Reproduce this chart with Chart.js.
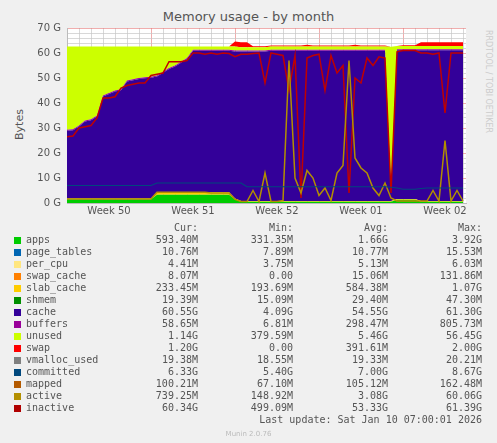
<!DOCTYPE html>
<html><head><meta charset="utf-8">
<script src="https://cdn.jsdelivr.net/npm/chart.js@4.4.1/dist/chart.umd.min.js"></script>
<style>
body{margin:0;background:#f0f0f0;width:497px;height:443px;overflow:hidden;position:relative;font-family:"DejaVu Sans",sans-serif}
#t{position:absolute;top:9px;left:0;width:497px;text-align:center;font-size:13px;color:#555}
#yl{position:absolute;left:4px;top:118px;transform:rotate(-90deg);font-size:11px;color:#555;transform-origin:center}
#rr{position:absolute;left:484px;top:30px;writing-mode:vertical-rl;font-size:8px;color:#ccc}
#c{position:absolute;left:0;top:0}
#lg{position:absolute;left:0;top:222px;width:497px;height:200px;font-family:"DejaVu Sans Mono",monospace;font-size:10px;color:#555}
#lg div{position:absolute;white-space:pre;height:12px;line-height:12px}
.sw{position:absolute;width:7px;height:7px}
#mu{position:absolute;top:430px;left:0;width:497px;text-align:center;font-size:7px;color:#bbb}
</style></head><body>
<div id="t">Memory usage - by month</div>
<div id="yl">Bytes</div>
<div id="rr">RRDTOOL / TOBI OETIKER</div>
<canvas id="c" width="497" height="230"></canvas>
<div id="lg"></div>
<div id="mu">Munin 2.0.76</div>
<script>
const days=[0,0.5,1,1.5,2,2.5,3,3.5,4,4.5,5,5.5,6,6.5,7,7.5,8,8.5,9,9.5,10,10.5,11,11.5,12,12.5,13,13.5,14,14.5,15,15.5,16,16.5,17,17.5,18,18.5,19,19.5,20,20.5,21,21.5,22,22.5,23,23.5,24,24.5,25,25.5,26,26.5,27,27.5,28,28.5,29,29.5,30,30.5,31,31.5,32,32.5,33];
const weekLabels=["Week 50","Week 51","Week 52","Week 01","Week 02"];
const apps=[1.5,1.5,1.5,1.5,1.5,1.5,1.5,1.5,1.5,1.5,1.5,1.5,1.5,1.5,1.5,3.3,3.3,3.3,3.3,3.3,3.3,3.3,3.3,3.3,3.3,3.3,3.3,3.3,1.5,0.5,0.5,0.5,0.5,0.5,0.5,0.5,0.5,0.5,0.5,0.5,0.5,0.5,0.5,0.5,0.5,0.5,0.5,0.5,0.5,0.5,0.5,0.5,0.5,0.5,0.5,1.3,1.3,1.3,1.3,0.5,0.5,0.5,0.5,0.5,0.5,0.5,0.5];
const slabCache=[0.3,0.3,0.3,0.3,0.3,0.3,0.3,0.3,0.3,0.3,0.3,0.3,0.3,0.3,0.3,1.0,1.0,1.0,1.0,1.0,1.0,1.0,1.0,1.0,1.0,1.0,1.0,1.0,0.3,0.3,0.3,0.3,0.3,0.3,0.3,0.3,0.3,0.3,0.3,0.3,0.3,0.3,0.3,0.3,0.3,0.3,0.3,0.3,0.3,0.3,0.3,0.3,0.3,0.3,0.3,0.3,0.3,0.3,0.3,0.3,0.3,0.3,0.3,0.3,0.3,0.3,0.3];
const cache=[27.1,27.3,28.8,30.8,31.3,32.8,40.8,41.8,42.8,43.3,46.8,47.3,47.8,48.1,48.3,46.3,47.8,49.3,50.3,51.8,53.3,56.6,56.6,56.6,56.6,56.6,56.6,56.6,58.8,59.8,59.8,59.8,59.8,59.8,60.1,60.1,60.1,60.1,60.1,60.1,60.1,60.1,60.1,60.1,60.1,60.1,60.1,60.1,60.1,60.1,60.1,60.1,60.1,60.1,4.1,59.5,59.5,59.5,59.5,60.3,60.3,60.3,60.3,60.3,60.3,60.3,60.3];
const buffers=[0.4,0.4,0.4,0.4,0.4,0.4,0.4,0.4,0.4,0.4,0.4,0.4,0.4,0.4,0.4,0.4,0.4,0.4,0.4,0.4,0.4,0.4,0.4,0.4,0.4,0.4,0.4,0.4,0.4,0.4,0.4,0.4,0.4,0.4,0.4,0.4,0.4,0.4,0.4,0.4,0.4,0.4,0.4,0.4,0.4,0.4,0.4,0.4,0.4,0.4,0.4,0.4,0.4,0.4,0.1,0.4,0.4,0.4,0.4,0.4,0.4,0.4,0.4,0.4,0.4,0.4,0.4];
const unused=[33.3,33.1,31.6,29.6,29.1,27.6,19.6,18.6,17.6,17.1,13.6,13.1,12.6,12.3,12.1,11.6,10.1,8.6,7.6,6.1,4.6,1.3,1.3,1.3,1.3,1.3,1.3,1.3,1.6,1.3,1.3,1.3,1.3,1.3,1.3,1.3,1.3,1.3,1.3,1.3,1.3,1.3,1.3,1.3,1.3,1.3,1.3,1.3,1.3,1.3,1.3,1.3,1.3,1.3,57.5,1.3,1.3,1.3,1.3,1.3,1.3,1.3,1.3,1.3,1.3,1.3,1.3];
const swap=[0,0,0,0,0,0,0,0,0,0,0,0,0,0,0,0,0,0,0,0,0,0,0,0,0,0,0,0,2.0,2.0,2.0,0.4,0.4,0.4,0.4,0.4,0.4,0.4,0.4,0.4,0.7,0.4,0.4,0.4,0.4,0.4,0.4,0.4,0.7,0.4,0.4,0.4,0.4,0.4,0,0,0.3,0.3,0.3,1.5,1.5,1.5,1.5,1.5,1.5,1.5,1.5];
const committed=[7,7,7,7,7,7,7,7,7,7,7,7,7,7,7,8,8,8,8,8,8,8,8,8,8,8,8,8,8,8,6.5,6.5,6.5,6.5,6.5,6.5,6.5,6.5,6.5,6.5,6.5,6.5,6.5,6.5,6.5,6.5,6.5,6.5,6.5,6.5,6.5,6.5,6.5,6.5,6.3,6.0,5.5,5.5,5.5,5.8,6.0,6.0,6.0,6.0,6.0,6.0,6.0];
const active=[1.6,1.6,1.6,1.6,1.6,1.6,1.6,1.6,1.6,1.6,1.6,1.6,1.6,1.6,1.6,4.3,4.3,4.3,4.3,4.3,4.3,4.3,4.3,4.3,4.0,4.0,4.0,4.0,1.5,0.6,0.6,5,0.6,12,0.6,0.6,1,57,10,4,13,10,3,6,1,12,15,57,18,14,12,6,3,8,2,0.8,0.8,0.8,0.8,0.8,0.8,5,0.8,25,0.8,5,0.8];
const inactive=[26.5,26.8,30,30.5,31,34,42,42,42.5,46,47,47.5,48,48,51,51.5,52,56.5,56.5,56.5,57,60,60,59.5,60,59.5,60,59.8,58.5,59.5,59.5,59.8,60,48,60,59.5,59,45,59,2,58,59,59.5,45,59,52,55,4,50,48,58,55,58.5,58,4,60.5,61,61,61,60,60,59.5,60,36,60,60,60];

const pts=a=>a.map((v,i)=>({x:days[i],y:v}));
const area=(label,data,color,fill)=>({label,data:pts(data),backgroundColor:color,borderColor:color,borderWidth:0,fill,stack:'s',pointRadius:0,order:2});
const line=(label,data,color,w)=>({label,data:pts(data),borderColor:color,borderWidth:w,fill:false,stack:label,pointRadius:0,order:1});
const datasets=[
 area('apps',apps,'#00CC00','origin'),
 area('slab_cache',slabCache,'#FFCC00','-1'),
 area('cache',cache,'#330099','-1'),
 area('buffers',buffers,'#990099','-1'),
 area('unused',unused,'#CCFF00','-1'),
 area('swap',swap,'#FF0000','-1'),
 line('committed',committed,'#00487D',1.2),
 line('active',active,'#B38F00',1.5),
 line('inactive',inactive,'#C00000',1.5),
];
const weekTicks=[3.5,10.5,17.5,24.5,31.5];
new Chart(document.getElementById('c'),{type:'line',data:{datasets},
 options:{responsive:false,animation:false,events:[],
  layout:{padding:{top:28,right:31,left:0,bottom:0}},
  plugins:{legend:{display:false},tooltip:{enabled:false}},
  scales:{
   x:{type:'linear',min:0,max:33.25,
    afterBuildTicks:s=>{const t=[];for(let d=0;d<=33;d++)t.push({value:d});weekTicks.forEach(v=>t.push({value:v}));s.ticks=t.sort((a,b)=>a.value-b.value);},
    afterFit:s=>{s.height=27;},
    ticks:{autoSkip:false,maxRotation:0,color:'#555',font:{family:'DejaVu Sans',size:10},padding:2,
      callback:v=>{const k=weekTicks.indexOf(v);return k>=0?weekLabels[k]:'';}},
    grid:{drawTicks:false,lineWidth:1,color:c=>{const v=c.tick.value;if(weekTicks.includes(v))return 'rgba(0,0,0,0)';return v%7===0?'rgba(230,120,120,0.6)':'rgba(200,200,200,0.7)';}},
    border:{color:'#bbb'}},
   y:{stacked:true,min:0,max:70,
    afterBuildTicks:s=>{const t=[];for(let v=0;v<=70;v+=2)t.push({value:v});s.ticks=t;},
    afterFit:s=>{s.width=67;},
    ticks:{autoSkip:false,color:'#555',font:{family:'DejaVu Sans',size:10},padding:6,callback:v=>v%10===0?v+' G':''},
    grid:{drawTicks:false,color:c=>c.tick.value%10===0?'rgba(230,120,120,0.6)':'rgba(200,200,200,0.7)'},
    border:{color:'#bbb'}}
  }},
 plugins:[{id:'bg',beforeDraw(ch){const a=ch.chartArea,x=ch.ctx;x.save();x.fillStyle='#fff';x.fillRect(a.left,a.top,a.right-a.left,a.bottom-a.top);x.restore();}}]
});
const legend=[
 ['apps','#00CC00','593.40M','331.35M','1.66G','3.92G'],
 ['page_tables','#0066B3','10.76M','7.89M','10.77M','15.53M'],
 ['per_cpu','#FFE680','4.41M','3.75M','5.13M','6.03M'],
 ['swap_cache','#FF8000','8.07M','0.00','15.06M','131.86M'],
 ['slab_cache','#FFCC00','233.45M','193.69M','584.38M','1.07G'],
 ['shmem','#008F00','19.39M','15.09M','29.40M','47.30M'],
 ['cache','#330099','60.55G','4.09G','54.55G','61.30G'],
 ['buffers','#990099','58.65M','6.81M','298.47M','805.73M'],
 ['unused','#CCFF00','1.14G','379.59M','5.46G','56.45G'],
 ['swap','#FF0000','1.20G','0.00','391.61M','2.00G'],
 ['vmalloc_used','#808080','19.38M','18.55M','19.33M','20.21M'],
 ['committed','#00487D','6.33G','5.40G','7.00G','8.67G'],
 ['mapped','#B35A00','100.21M','67.10M','105.12M','162.48M'],
 ['active','#B38F00','739.25M','148.92M','3.08G','60.06G'],
 ['inactive','#B00000','60.34G','499.09M','53.33G','61.39G']];
const lg=document.getElementById('lg');const rights=[198,293,388,482];
let h='';['Cur:','Min:','Avg:','Max:'].forEach((s,k)=>{h+=`<div style="top:0;right:${497-rights[k]}px">${s}</div>`;});
legend.forEach((r,i)=>{const y=12+i*12;h+=`<span class="sw" style="left:14px;top:${y+3}px;background:${r[1]}"></span><div style="left:26px;top:${y}px">${r[0]}</div>`;for(let k=0;k<4;k++)h+=`<div style="top:${y}px;right:${497-rights[k]}px">${r[k+2]}</div>`;});
h+=`<div style="top:${12+15*12}px;right:15px">Last update: Sat Jan 10 07:00:01 2026</div>`;
lg.innerHTML=h;
</script></body></html>
